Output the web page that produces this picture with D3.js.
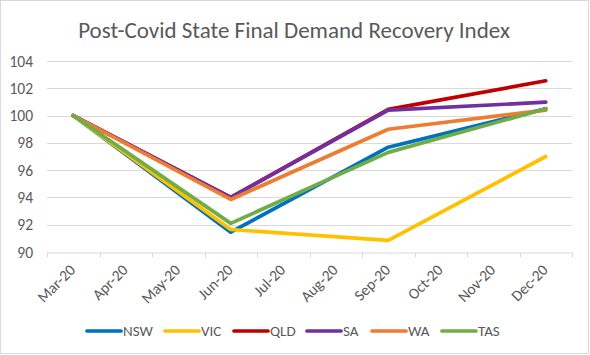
<!DOCTYPE html>
<html><head><meta charset="utf-8">
<script src="https://cdn.jsdelivr.net/npm/d3@7"></script>
<style>body{margin:0;background:#fff}svg{display:block}</style>
</head><body>
<svg id="c" width="590" height="355"></svg>
<script>
const months = ["Mar-20","Apr-20","May-20","Jun-20","Jul-20","Aug-20","Sep-20","Oct-20","Nov-20","Dec-20"];
const yTicks = [90,92,94,96,98,100,102,104];
const seriesNames = ["NSW","VIC","QLD","SA","WA","TAS"];
const seriesColors = ["#0070C0","#FFC000","#C00000","#7030A0","#ED7D31","#70AD47"];
// values at Mar-20, Jun-20, Sep-20, Dec-20
const pointMonths = ["Mar-20","Jun-20","Sep-20","Dec-20"];
const NSW = [100, 91.45, 97.68, 100.5];
const VIC = [100, 91.65, 90.85, 97.0];
const QLD = [100, 94.0, 100.45, 102.55];
const SA  = [100, 94.0, 100.4, 100.98];
const WA  = [100, 93.85, 99.0, 100.4];
const TAS = [100, 92.1, 97.3, 100.5];
const seriesValues = [NSW, VIC, QLD, SA, WA, TAS];

const svg = d3.select("#c");
const font = "Calibri, Carlito, 'Open Sans', sans-serif";
svg.append("rect").attr("x",0.5).attr("y",0.5).attr("width",588).attr("height",353)
  .attr("fill","#fff").attr("stroke","#d9d9d9");

const x = d3.scaleBand().domain(months).range([47,572]);
const y = d3.scaleLinear().domain([90,104]).range([252,61]);

svg.append("text").attr("x",294).attr("y",38).attr("text-anchor","middle")
  .attr("font-family",font).attr("font-size",23).attr("fill","#595959")
  .text("Post-Covid State Final Demand Recovery Index");

// gridlines
svg.append("g").selectAll("line").data(yTicks.filter(d=>d!==90)).join("line")
  .attr("x1",47).attr("x2",572).attr("y1",d=>Math.round(y(d))+0.5).attr("y2",d=>Math.round(y(d))+0.5)
  .attr("stroke","#d9d9d9").attr("stroke-width",1);

// y labels
svg.append("g").selectAll("text").data(yTicks).join("text")
  .attr("x",33).attr("y",d=>y(d)+5.5).attr("text-anchor","end")
  .attr("font-family",font).attr("font-size",15.5).attr("fill","#595959").text(d=>d);

// x axis
const xAxis = d3.axisBottom(x).tickSize(0).tickFormat("");
const gx = svg.append("g").attr("transform","translate(0,252.5)").call(xAxis);
gx.select(".domain").attr("stroke","#d9d9d9");
const bounds = months.map(m=>x(m)).concat([572]);
gx.selectAll(".btick").data(bounds).join("line").attr("class","btick")
  .attr("x1",d=>Math.round(d)+0.5).attr("x2",d=>Math.round(d)+0.5).attr("y1",0).attr("y2",5)
  .attr("stroke","#d9d9d9");
svg.append("g").selectAll("text").data(months).join("text")
  .attr("transform",d=>`translate(${x(d)+x.bandwidth()/2+3},${271}) rotate(-45)`)
  .attr("text-anchor","end").attr("font-family",font).attr("font-size",15.5).attr("fill","#595959")
  .text(d=>d);

// lines
const line = d3.line().x(d=>x(d[0])+x.bandwidth()/2).y(d=>y(d[1]));
seriesNames.forEach((n,i)=>{
  const pts = pointMonths.map((m,j)=>[m, seriesValues[i][j]]);
  svg.append("path").attr("d",line(pts)).attr("fill","none")
    .attr("stroke",seriesColors[i]).attr("stroke-width",3.7)
    .attr("stroke-linejoin","round").attr("stroke-linecap","round");
});

// legend
const legX = [87,165,234,307,372,442];
const lg = svg.append("g");
seriesNames.forEach((n,i)=>{
  lg.append("line").attr("x1",legX[i]).attr("x2",legX[i]+34).attr("y1",331).attr("y2",331)
    .attr("stroke",seriesColors[i]).attr("stroke-width",3.7).attr("stroke-linecap","round");
  lg.append("text").attr("x",legX[i]+36).attr("y",336).attr("font-family",font)
    .attr("font-size",15).attr("fill","#595959").text(n);
});
</script>
</body></html>
